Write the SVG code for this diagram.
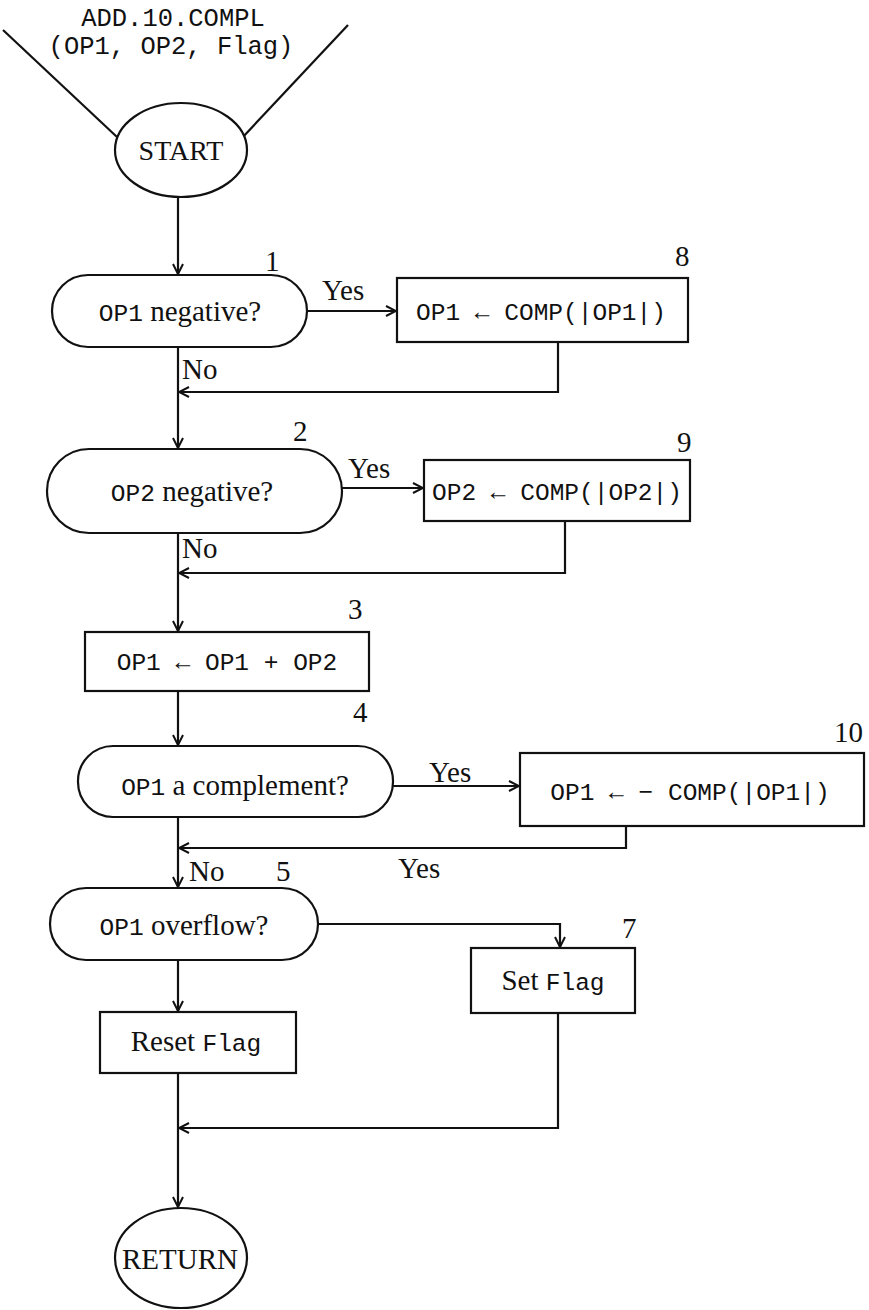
<svg xmlns="http://www.w3.org/2000/svg" width="869" height="1310" viewBox="0 0 869 1310">
<style>
.s{fill:none;stroke:#111;stroke-width:2.2}
.t{font-family:"Liberation Serif","Times New Roman",serif;font-size:29px;fill:#111}
.m{font-family:"Liberation Mono","DejaVu Sans Mono",monospace;font-size:24.5px;fill:#111}
.c{text-anchor:middle}
.w{fill:#fff}
</style>
<defs>
<marker id="a" viewBox="0 0 12 12" refX="11" refY="6" markerWidth="12" markerHeight="12" markerUnits="userSpaceOnUse" orient="auto">
<path d="M1,1 L11,6 L1,11" fill="none" stroke="#111" stroke-width="2"/>
</marker>
</defs>
<rect width="869" height="1310" fill="#fff"/>
<g id="title">
<text class="m c" x="173" y="26" style="font-size:25.5px">ADD.10.COMPL</text>
<text class="m c" x="171" y="54" style="font-size:25.5px">(OP1, OP2, Flag)</text>
<line class="s" x1="3" y1="30" x2="117" y2="137"/>
<line class="s" x1="348" y1="25" x2="242" y2="138"/>
</g>
<g id="connectors" class="s">
<path d="M178,197 V274" marker-end="url(#a)"/>
<path d="M307,311 H396" marker-end="url(#a)"/>
<path d="M558,342 V392 H179" marker-end="url(#a)"/>
<path d="M178,347 V448" marker-end="url(#a)"/>
<path d="M342,488 H423" marker-end="url(#a)"/>
<path d="M565,521 V573 H179" marker-end="url(#a)"/>
<path d="M178,533 V631" marker-end="url(#a)"/>
<path d="M178,691 V745" marker-end="url(#a)"/>
<path d="M393,786 H519" marker-end="url(#a)"/>
<path d="M626,826 V848 H179" marker-end="url(#a)"/>
<path d="M178,817 V887" marker-end="url(#a)"/>
<path d="M318,924 H560 V947" marker-end="url(#a)"/>
<path d="M178,960 V1011" marker-end="url(#a)"/>
<path d="M558,1013 V1128 H179" marker-end="url(#a)"/>
<path d="M178,1073 V1207" marker-end="url(#a)"/>
</g>
<g id="labels">
<text class="t" x="322" y="300">Yes</text>
<text class="t" x="182" y="379">No</text>
<text class="t" x="348" y="478">Yes</text>
<text class="t" x="182" y="558">No</text>
<text class="t" x="429" y="782">Yes</text>
<text class="t" x="189" y="881">No</text>
<text class="t" x="398" y="878">Yes</text>
</g>
<g id="start">
<ellipse class="s w" cx="181" cy="150" rx="66" ry="47"/>
<text class="t c" x="181" y="160" style="font-size:28px">START</text>
</g>
<g id="n1">
<rect class="s w" x="52" y="275" width="255" height="72" rx="36"/>
<text class="t c" x="180" y="321"><tspan class="m">OP1</tspan> negative?</text>
<text class="t" x="265" y="271">1</text>
</g>
<g id="n8">
<rect class="s w" x="397" y="278" width="291" height="64"/>
<text class="m c" x="541" y="320">OP1 ← COMP(|OP1|)</text>
<text class="t" x="675" y="266">8</text>
</g>
<g id="n2">
<rect class="s w" x="47" y="449" width="295" height="84" rx="42"/>
<text class="t c" x="192" y="501"><tspan class="m">OP2</tspan> negative?</text>
<text class="t" x="293" y="441">2</text>
</g>
<g id="n9">
<rect class="s w" x="424" y="460" width="266" height="61"/>
<text class="m c" x="557" y="500">OP2 ← COMP(|OP2|)</text>
<text class="t" x="677" y="452">9</text>
</g>
<g id="n3">
<rect class="s w" x="85" y="632" width="284" height="59"/>
<text class="m c" x="227" y="670">OP1 ← OP1 + OP2</text>
<text class="t" x="348" y="619">3</text>
</g>
<g id="n4">
<rect class="s w" x="78" y="746" width="315" height="71" rx="35"/>
<text class="t c" x="235" y="795"><tspan class="m">OP1</tspan> a complement?</text>
<text class="t" x="353" y="722">4</text>
</g>
<g id="n10">
<rect class="s w" x="520" y="753" width="344" height="73"/>
<text class="m c" x="690" y="800">OP1 ← − COMP(|OP1|)</text>
<text class="t" x="834" y="742">10</text>
</g>
<g id="n5">
<rect class="s w" x="50" y="888" width="268" height="72" rx="36"/>
<text class="t c" x="184" y="935"><tspan class="m">OP1</tspan> overflow?</text>
<text class="t" x="276" y="881">5</text>
</g>
<g id="n7">
<rect class="s w" x="471" y="948" width="164" height="65"/>
<text class="t c" x="553" y="990">Set <tspan class="m">Flag</tspan></text>
<text class="t" x="622" y="938">7</text>
</g>
<g id="n6">
<rect class="s w" x="100" y="1012" width="196" height="61"/>
<text class="t c" x="196" y="1051">Reset <tspan class="m">Flag</tspan></text>
</g>
<g id="return">
<ellipse class="s w" cx="181" cy="1258" rx="66" ry="50"/>
<text class="t c" x="180" y="1269">RETURN</text>
</g>
</svg>
